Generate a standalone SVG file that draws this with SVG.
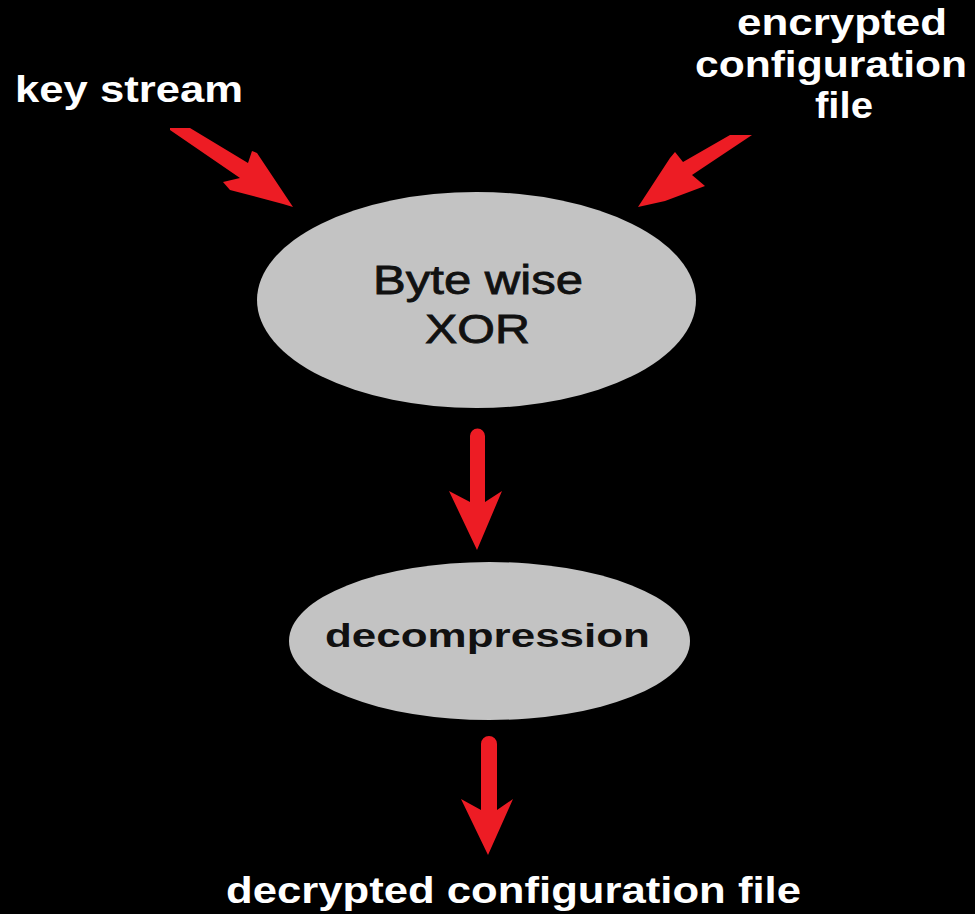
<svg xmlns="http://www.w3.org/2000/svg" width="975" height="914" viewBox="0 0 975 914">
<style>
.lbl{font-family:"Liberation Sans",Arial,sans-serif;font-weight:bold;fill:#ffffff;font-size:37px}
.nt{font-family:"Liberation Sans",Arial,sans-serif;fill:#111111}
.node{fill:#c3c3c3}
.arr{fill:#ed1c24}
</style>
<rect x="0" y="0" width="975" height="914" fill="#000000"/>
<g id="label-key-stream"><text class="lbl" x="15" y="102" textLength="228" lengthAdjust="spacingAndGlyphs">key stream</text></g>
<g id="label-encrypted">
<text class="lbl" x="737" y="35" textLength="210" lengthAdjust="spacingAndGlyphs">encrypted</text>
<text class="lbl" x="695" y="77" textLength="272" lengthAdjust="spacingAndGlyphs">configuration</text>
<text class="lbl" x="815" y="118" textLength="58" lengthAdjust="spacingAndGlyphs">file</text>
</g>
<g id="node-xor">
<ellipse class="node" cx="476.5" cy="300" rx="219.5" ry="108"/>
<text class="nt" x="373" y="294" font-size="40" stroke="#111111" stroke-width="0.8" textLength="210" lengthAdjust="spacingAndGlyphs">Byte wise</text>
<text class="nt" x="425" y="343" font-size="40" stroke="#111111" stroke-width="0.8" textLength="105" lengthAdjust="spacingAndGlyphs">XOR</text>
</g>
<g id="node-decompression">
<ellipse class="node" cx="489.5" cy="641" rx="200.5" ry="79"/>
<text class="nt" x="325" y="647" font-size="34" font-weight="bold" textLength="325" lengthAdjust="spacingAndGlyphs">decompression</text>
</g>
<g id="label-decrypted"><text class="lbl" x="226" y="903" textLength="575" lengthAdjust="spacingAndGlyphs">decrypted configuration file</text></g>
<g id="connectors">
<polygon class="arr" points="170,128 190,128 248,163 252,151 257,153 293,207 283,204 230,190 223,182 240,178 170,130"/>
<polygon class="arr" points="752,135 730,135 683,162 675,152 670,158 638,207 665,201 705,186 692,175"/>
<path class="arr" d="M470,436 A7.5,7.5 0 0 1 485,436 L485,502 L502,491 L477,550 L449,491 L470,502 Z"/>
<path class="arr" d="M481,744 A8,8 0 0 1 497,744 L497,810 L513,799 L488,855 L461,799 L481,810 Z"/>
</g>
</svg>
